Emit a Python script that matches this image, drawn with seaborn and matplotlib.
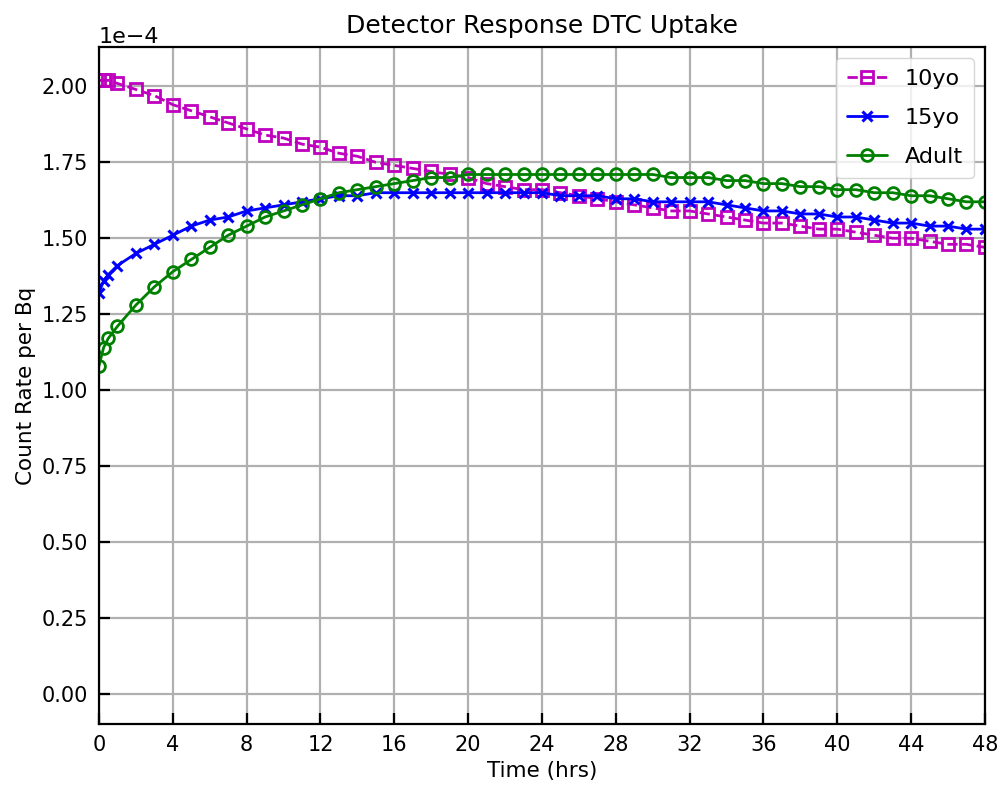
import numpy as np
import pandas as pd
import matplotlib
matplotlib.use("Agg")
import matplotlib.pyplot as plt
import seaborn as sns

times = [0, 0.25, 0.5] + list(range(1, 49))

y10 = [2.02, 2.02, 2.02, 2.01, 1.99, 1.97, 1.94, 1.92, 1.90, 1.88, 1.86, 1.84, 1.83, 1.81, 1.80,
       1.78, 1.77, 1.75, 1.74, 1.73, 1.72, 1.71, 1.70, 1.68, 1.67, 1.66, 1.66, 1.65, 1.64, 1.63,
       1.62, 1.61, 1.60, 1.59, 1.59, 1.58, 1.57, 1.56, 1.55, 1.55, 1.54, 1.53, 1.53, 1.52, 1.51,
       1.50, 1.50, 1.49, 1.48, 1.48, 1.47]
y15 = [1.32, 1.36, 1.38, 1.41, 1.45, 1.48, 1.51, 1.54, 1.56, 1.57, 1.59, 1.60, 1.61, 1.62, 1.63,
       1.64, 1.64, 1.65, 1.65, 1.65, 1.65, 1.65, 1.65, 1.65, 1.65, 1.65, 1.65, 1.64, 1.64, 1.64,
       1.63, 1.63, 1.62, 1.62, 1.62, 1.62, 1.61, 1.60, 1.59, 1.59, 1.58, 1.58, 1.57, 1.57, 1.56,
       1.55, 1.55, 1.54, 1.54, 1.53, 1.53]
yad = [1.08, 1.14, 1.17, 1.21, 1.28, 1.34, 1.39, 1.43, 1.47, 1.51, 1.54, 1.57, 1.59, 1.61, 1.63,
       1.65, 1.66, 1.67, 1.68, 1.69, 1.70, 1.70, 1.71, 1.71, 1.71, 1.71, 1.71, 1.71, 1.71, 1.71,
       1.71, 1.71, 1.71, 1.70, 1.70, 1.70, 1.69, 1.69, 1.68, 1.68, 1.67, 1.67, 1.66, 1.66, 1.65,
       1.65, 1.64, 1.64, 1.63, 1.62, 1.62]

series_names = ["10yo", "15yo", "Adult"]
scale = 1e-4

sns.set_style("white", rc={"text.color": "black", "axes.labelcolor": "black",
                           "xtick.color": "black", "ytick.color": "black",
                           "axes.edgecolor": "black"})
plt.rcParams['font.family'] = ['DejaVu Sans']

fig = plt.figure(figsize=(10.03, 8.02), dpi=100)
ax = fig.add_axes([0.0987, 0.0973, 0.8833, 0.8441])

styles = [
    dict(color='m', marker='s', linestyle='--'),
    dict(color='b', marker='x', linestyle='-'),
    dict(color='g', marker='o', linestyle='-'),
]
for name, vals, st in zip(series_names, [y10, y15, yad], styles):
    df = pd.DataFrame({"t": times, "v": np.array(vals) * scale})
    kw = dict(markersize=8.5, markeredgewidth=2.0, linewidth=2.0)
    if st['marker'] != 'x':
        kw['markerfacecolor'] = 'none'
    else:
        kw['markersize'] = 7.5
        kw['markeredgewidth'] = 2.2
    sns.lineplot(data=df, x="t", y="v", ax=ax, color=st['color'], marker=st['marker'],
                 linestyle=st['linestyle'], markeredgecolor=st['color'], label=name, **kw)

ax.set_xlim(0, 48)
ax.set_ylim(-0.1e-4, 2.13e-4)
ax.set_xticks(np.arange(0, 49, 4))
ax.set_yticks(np.arange(0, 2.01e-4, 0.25e-4))
ax.ticklabel_format(axis='y', style='sci', scilimits=(-4, -4))
ax.yaxis.get_offset_text().set_fontsize(16)
ax.grid(True, color='#b0b0b0', linewidth=1.6)
ax.set_axisbelow(True)
ax.tick_params(bottom=True, left=True, direction='in', length=8, width=1.6,
               labelsize=15, pad=8, colors='black')
for s in ax.spines.values():
    s.set_color('black')
    s.set_linewidth(1.6)
ax.set_xlabel("Time (hrs)", fontsize=15.5, color='black')
ax.set_ylabel("Count Rate per Bq", fontsize=15.5, color='black')
ax.set_title("Detector Response DTC Uptake", fontsize=18, pad=10, color='black')
ax.legend(loc='upper right', fontsize=16, framealpha=0.8, labelspacing=0.85,
          handlelength=1.8, borderpad=0.5)

fig.savefig("out.png", dpi=100)
